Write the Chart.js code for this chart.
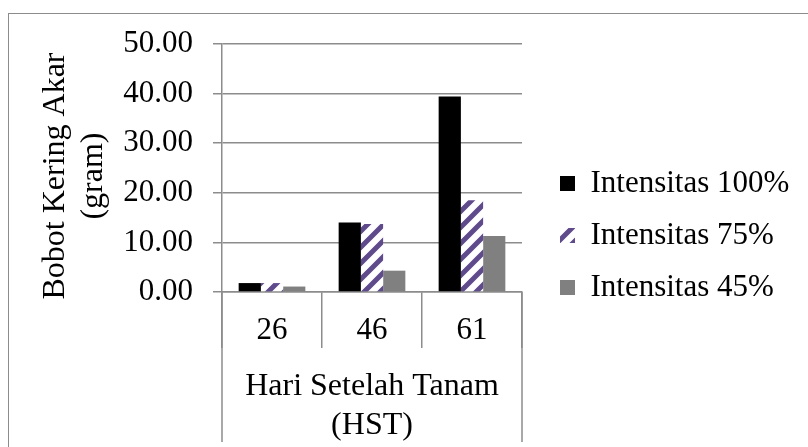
<!DOCTYPE html>
<html>
<head>
<meta charset="utf-8">
<script src="https://cdn.jsdelivr.net/npm/chart.js@4/dist/chart.umd.min.js"></script>
<style>
    html, body { margin: 0; padding: 0; background: #fff; overflow: hidden; }
    #frame { position: absolute; left: 8px; top: 13px; width: 900px; height: 600px; border: 1.5px solid #8c8c8c; }
    #wrap { position: absolute; left: 0; top: 0; width: 808px; height: 447px; }
</style>
</head>
<body>
<div id="frame"></div>
<div id="wrap"><canvas id="chart" width="808" height="447"></canvas></div>
<script>
// data
const categories = ['26', '46', '61'];
const seriesNames = ['Intensitas 100%', 'Intensitas 75%', 'Intensitas 45%'];
const intensity100 = [1.8, 14.0, 39.4];
const intensity75 = [1.8, 13.7, 18.5];
const intensity45 = [1.1, 4.3, 11.3];
const yTicks = [0, 10, 20, 30, 40, 50];

const fontFamily = "'Liberation Serif', 'Times New Roman', serif";
const gridColor = '#8c8c8c';

function makeHatch() {
    const p = document.createElement('canvas');
    p.width = 16;
    p.height = 16;
    const c = p.getContext('2d');
    c.fillStyle = '#fff';
    c.fillRect(0, 0, 16, 16);
    c.strokeStyle = '#5f4a8b';
    c.lineWidth = 5;
    c.beginPath();
    c.moveTo(-4, 20); c.lineTo(20, -4);
    c.moveTo(-4, 4); c.lineTo(4, -4);
    c.moveTo(12, 20); c.lineTo(20, 12);
    c.stroke();
    return c.createPattern(p, 'repeat');
}

// the two outer category dividers run down past the axis title
const dividerLines = {
    id: 'dividerLines',
    afterDraw(chart) {
        const { ctx, chartArea } = chart;
        ctx.save();
        ctx.strokeStyle = gridColor;
        ctx.lineWidth = 1.5;
        [chartArea.left, chartArea.right].forEach(x => {
            ctx.beginPath();
            ctx.moveTo(x, chartArea.bottom);
            ctx.lineTo(x, 442);
            ctx.stroke();
        });
        ctx.restore();
    }
};

// legend would otherwise be capped at a quarter of the width
const wideLegend = {
    id: 'wideLegend',
    beforeLayout(chart) {
        const lg = chart.legend;
        if (lg && !lg._wide) {
            const fit = lg.fit.bind(lg);
            lg.fit = function() {
                fit();
                this.width = 269;
            };
            lg._wide = true;
        }
    }
};

const ctx = document.getElementById('chart').getContext('2d');
new Chart(ctx, {
    type: 'bar',
    data: {
        labels: categories,
        datasets: [
            { label: seriesNames[0], data: intensity100, backgroundColor: '#000000', borderWidth: 0 },
            { label: seriesNames[1], data: intensity75, backgroundColor: makeHatch(), borderWidth: 0 },
            { label: seriesNames[2], data: intensity45, backgroundColor: '#808080', borderWidth: 0 }
        ]
    },
    options: {
        responsive: false,
        animation: false,
        layout: { padding: { top: 44, left: 0, right: 0, bottom: 20 } },
        datasets: { bar: { categoryPercentage: 0.667, barPercentage: 1 } },
        plugins: {
            legend: {
                position: 'right',
                align: 'center',
                labels: {
                    font: { family: fontFamily, size: 31 },
                    color: '#000',
                    boxWidth: 15,
                    boxHeight: 15,
                    padding: 21
                }
            },
            tooltip: { enabled: false }
        },
        scales: {
            x: {
                grid: { drawOnChartArea: false, drawTicks: true, tickLength: 56, color: gridColor, lineWidth: 1.5, offset: true },
                border: { color: gridColor, width: 1.5 },
                ticks: { font: { family: fontFamily, size: 31 }, color: '#000', padding: -36 },
                title: {
                    display: true,
                    text: ['Hari Setelah Tanam', '(HST)'],
                    font: { family: fontFamily, size: 32, lineHeight: 1.22 },
                    color: '#000',
                    padding: { top: 0, bottom: -18 }
                },
                afterFit(scale) { scale.height = 135; }
            },
            y: {
                min: 0,
                max: 50,
                afterBuildTicks(scale) { scale.ticks = yTicks.map(v => ({ value: v })); },
                grid: { color: gridColor, lineWidth: 1.5, tickLength: 9 },
                border: { color: gridColor, width: 1.5 },
                ticks: {
                    font: { family: fontFamily, size: 31 },
                    color: '#000',
                    padding: 20,
                    callback: v => v.toFixed(2)
                },
                title: {
                    display: true,
                    // trailing spaces nudge the rotated title a little lower
                    text: ['Bobot Kering Akar  ', '(gram)  '],
                    font: { family: fontFamily, size: 32, lineHeight: 1.2 },
                    color: '#000',
                    padding: { top: 36, bottom: 0 }
                },
                afterFit(scale) { scale.width = 222; }
            },
            yRight: {
                type: 'linear',
                position: 'right',
                grid: { display: false },
                border: { display: false },
                ticks: { display: false },
                afterFit(scale) { scale.width = 17; }
            }
        }
    },
    plugins: [dividerLines, wideLegend]
});
</script>
</body>
</html>
